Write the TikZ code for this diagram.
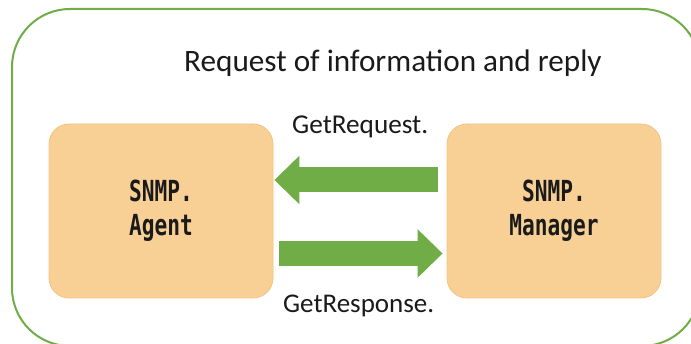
\documentclass[tikz,border=0pt]{standalone}
\usepackage{fontspec}
\setmainfont{Carlito}
\newfontfamily\monofnt[FakeStretch=0.73]{DejaVu Sans Mono Bold}
\usetikzlibrary{arrows.meta,calc}
\definecolor{grn}{HTML}{70AD47}
\definecolor{org}{HTML}{F8CF94}
\definecolor{orgline}{HTML}{F4C47F}
\definecolor{txt}{HTML}{1A1A1A}
\tikzset{
  box/.style={draw=orgline, line width=0.8pt, fill=org, rounded corners=20pt,
    minimum width=224pt, minimum height=174pt, inner sep=0pt,
    align=center, text=txt, font=\monofnt\fontsize{29}{34}\selectfont},
  blockarrow/.style={draw=grn, line width=25pt,
    -{Triangle[width=47pt,length=25pt,fill=grn]}},
  lbl/.style={inner sep=0pt, anchor=base west, text=txt},
}
\begin{document}
\begin{tikzpicture}[x=1pt,y=1pt]
\useasboundingbox (0,0) rectangle (691,-344);
\clip (0,0) rectangle (691,-344);
\fill[white] (0,0) rectangle (691,-344);
\draw[grn, line width=2pt, rounded corners=58pt] (12,-9) rectangle (700,-346);
\node[lbl, font=\fontsize{31.2}{36}\selectfont] (title) at (184,-72) {Request of information and reply};
\node[box] (agent) at (161,-211) {SNMP.\\Agent};
\node[box, minimum width=214pt] (mgr) at (554,-211) {SNMP.\\Manager};
\node[lbl, font=\fontsize{27.2}{32}\selectfont] (req) at (292,-134) {GetRequest.};
\node[lbl, font=\fontsize{27}{32}\selectfont] (resp) at (283,-313) {GetResponse.};
\coordinate (a1s) at ($(mgr.west)+(-9pt,31pt)$);
\coordinate (a1e) at ($(agent.east)+(1pt,31pt)$);
\coordinate (a2s) at ($(agent.east)+(6pt,-42.5pt)$);
\coordinate (a2e) at ($(mgr.west)+(-4pt,-42.5pt)$);
\draw[blockarrow] (a1s) -- (a1e);
\draw[blockarrow] (a2s) -- (a2e);
\end{tikzpicture}
\end{document}
